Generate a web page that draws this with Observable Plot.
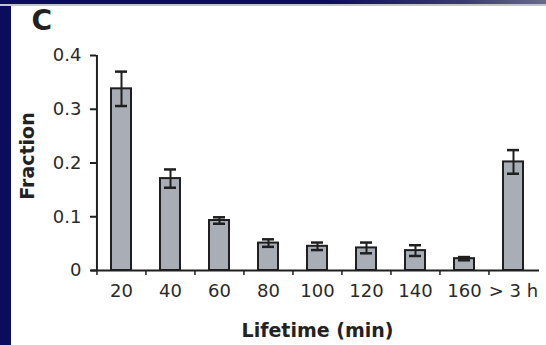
<!DOCTYPE html>
<html>
<head>
<meta charset="utf-8">
<script src="https://cdn.jsdelivr.net/npm/d3@7"></script>
<script src="https://cdn.jsdelivr.net/npm/@observablehq/plot@0.6"></script>
<style>
  html, body { margin: 0; padding: 0; background: #fff; }
  #wrap { position: relative; width: 546px; height: 345px; overflow: hidden; background: #fff; }
  #topband { position: absolute; left: 0; top: 0; width: 546px; height: 4px;
    background: linear-gradient(to right, #0c0c5e 0%, #0c0c5e 60%, #3a3a72 85%, #6a6a8c 100%); }
  #topline { position: absolute; left: 0; top: 4px; width: 546px; height: 2px; background: #c4c4cc; }
  #leftband { position: absolute; left: 0; top: 6px; width: 11px; height: 339px; background: #0c0c5e; }
  #chart { position: absolute; left: 0; top: 0; }
</style>
</head>
<body>
<div id="wrap">
  <div id="topband"></div>
  <div id="topline"></div>
  <div id="leftband"></div>
  <div id="chart"></div>
</div>
<script>
const categories = ["20", "40", "60", "80", "100", "120", "140", "160", "> 3 h"];
const fractions  = [0.338, 0.171, 0.093, 0.051, 0.045, 0.042, 0.037, 0.022, 0.202];
const errors     = [0.032, 0.017, 0.006, 0.007, 0.007, 0.010, 0.010, 0.003, 0.022];
const yTicks     = [0, 0.1, 0.2, 0.3, 0.4];
const panelLabel = "C";
const xTitle = "Lifetime (min)";
const yTitle = "Fraction";

const data = categories.map((c, i) => ({cat: c, value: fractions[i], err: errors[i]}));

const W = 546, H = 345;
const mL = 96, mR = 8, mT = 55, mB = 75;
const halfStep = (W - mL - mR) / categories.length / 2;
const ink = "#1f1f1f";

const chart = Plot.plot({
  width: W, height: H,
  marginLeft: mL, marginRight: mR, marginTop: mT, marginBottom: mB,
  style: {background: "transparent", fontFamily: "'DejaVu Sans', sans-serif", fontSize: "18px", color: "#2a2a2a"},
  x: {type: "band", domain: categories, paddingInner: 0.59, paddingOuter: 0.295, axis: null},
  y: {domain: [0, 0.4], axis: null},
  marks: [
    Plot.barY(data, {x: "cat", y: "value", fill: "#a9adb6", stroke: ink, strokeWidth: 2}),
    Plot.ruleX(data, {x: "cat", y1: d => d.value - d.err, y2: d => d.value + d.err, stroke: ink, strokeWidth: 2}),
    Plot.tickY(data, {x: "cat", y: d => d.value + d.err, insetLeft: 4, insetRight: 4, stroke: ink, strokeWidth: 2.5}),
    Plot.tickY(data, {x: "cat", y: d => d.value - d.err, insetLeft: 4, insetRight: 4, stroke: ink, strokeWidth: 2.5}),
    Plot.ruleY([0], {insetLeft: -5, insetRight: -1, stroke: ink, strokeWidth: 2}),
    Plot.ruleX([categories[0]], {x: d => d, y1: 0, y2: 0.4, dx: -halfStep, stroke: ink, strokeWidth: 2}),
    Plot.ruleX(categories, {x: d => d, y1: 0, y2: 0, dx: -halfStep, insetBottom: -5, stroke: ink, strokeWidth: 1.5}),
    Plot.axisY({ticks: yTicks, tickSize: 6, tickPadding: 9, tickFormat: d => String(d), stroke: ink, strokeWidth: 2, label: null}),
    Plot.axisX({tickSize: 0, tickPadding: 14, label: null}),
    Plot.text([xTitle], {frameAnchor: "bottom", lineAnchor: "middle", textAnchor: "middle", dy: 60, fontSize: 19, fontWeight: "bold", fill: "#222"}),
    Plot.text([yTitle], {frameAnchor: "left", lineAnchor: "middle", textAnchor: "middle", rotate: -90, dx: -69, dy: -7, fontSize: 19, fontWeight: "bold", fill: "#222"}),
    Plot.text([panelLabel], {frameAnchor: "top-left", lineAnchor: "top", textAnchor: "start", dx: -65, dy: -45, fontSize: 28, fontWeight: "bold", fill: "#222"})
  ]
});
document.getElementById("chart").appendChild(chart);
</script>
</body>
</html>
